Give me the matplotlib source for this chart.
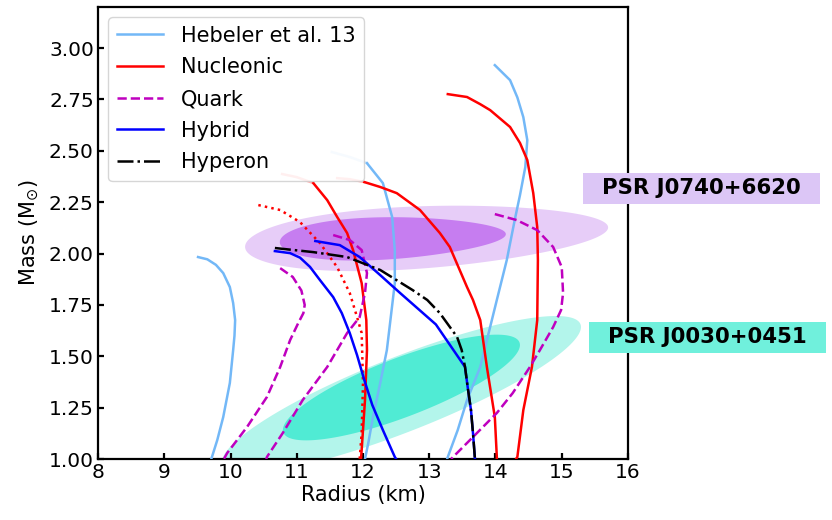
import matplotlib
matplotlib.use("Agg")
import matplotlib.pyplot as plt
import numpy as np
from matplotlib.patches import Polygon, Rectangle

# ---- Hebeler et al. (2013) representative EoS -------------------------------
heb1_r = [9.51, 9.65, 9.78, 9.89, 9.99, 10.04, 10.07, 10.06, 10.04, 9.99, 9.89, 9.80, 9.72, 9.71]
heb1_m = [1.983, 1.972, 1.945, 1.905, 1.837, 1.759, 1.676, 1.60, 1.53, 1.37, 1.204, 1.092, 1.01, 1.00]
heb2_top_r = [11.53, 11.80, 12.06]
heb2_top_m = [2.494, 2.47, 2.44]
heb2_r = [12.06, 12.30, 12.44, 12.48, 12.48, 12.45, 12.36, 12.26, 12.15, 12.08, 12.03]
heb2_m = [2.44, 2.343, 2.178, 2.017, 1.856, 1.774, 1.53, 1.37, 1.204, 1.078, 1.00]
heb3_r = [13.99, 14.22, 14.33, 14.42, 14.48, 14.45, 14.37, 14.29, 14.17, 14.02, 13.77,
          13.57, 13.43, 13.28, 13.27]
heb3_m = [2.917, 2.844, 2.76, 2.664, 2.552, 2.421, 2.285, 2.163, 1.968, 1.774, 1.448,
          1.287, 1.141, 1.01, 1.00]

# ---- Nucleonic ----------------------------------------------------------------
nuc1_top_r = [10.78, 11.00, 11.25]
nuc1_top_m = [2.387, 2.372, 2.343]
nuc1_r = [11.25, 11.46, 11.61, 11.76, 11.85, 11.98, 12.05, 12.06, 12.03, 11.98, 11.97]
nuc1_m = [2.343, 2.26, 2.178, 2.10, 2.017, 1.856, 1.676, 1.53, 1.287, 1.044, 1.00]
nuc2_top_r = [11.61, 11.80, 12.02]
nuc2_top_m = [2.367, 2.362, 2.348]
nuc2_r = [12.02, 12.26, 12.51, 12.86, 13.16, 13.31, 13.57, 13.66, 13.77, 13.87, 13.99,
          14.02, 14.02]
nuc2_m = [2.348, 2.324, 2.294, 2.212, 2.10, 2.032, 1.837, 1.774, 1.676, 1.448, 1.204,
          1.01, 1.00]
nuc3_r = [13.28, 13.57, 13.77, 13.92, 14.22, 14.37, 14.48, 14.57, 14.63, 14.64, 14.63,
          14.55, 14.42, 14.33, 14.31]
nuc3_m = [2.776, 2.762, 2.727, 2.698, 2.616, 2.538, 2.455, 2.294, 2.129, 1.968, 1.676,
          1.448, 1.238, 1.01, 1.00]
nuc_dot_r = [10.42, 10.75, 11.05, 11.35, 11.61, 11.80, 11.91, 11.98, 12.00, 11.98, 11.95]
nuc_dot_m = [2.236, 2.212, 2.153, 2.051, 1.934, 1.808, 1.691, 1.613, 1.37, 1.127, 1.00]

# ---- Quark --------------------------------------------------------------------
qk1_r = [10.75, 10.94, 11.07, 11.12, 11.10, 11.02, 10.90, 10.75, 10.55, 10.25, 9.95, 9.90]
qk1_m = [1.929, 1.886, 1.82, 1.75, 1.71, 1.66, 1.579, 1.448, 1.302, 1.156, 1.029, 1.00]
qk2_r = [11.55, 11.80, 11.98, 12.06, 12.03, 11.95, 11.76, 11.46, 11.09, 10.79, 10.55, 10.54]
qk2_m = [2.09, 2.066, 2.017, 1.905, 1.808, 1.691, 1.613, 1.448, 1.287, 1.127, 1.01, 1.00]
qk3_r = [13.99, 14.32, 14.63, 14.87, 15.00, 15.02, 14.99, 14.87, 14.67, 14.52, 14.26,
         14.02, 13.66, 13.36, 13.33]
qk3_m = [2.192, 2.163, 2.114, 2.032, 1.934, 1.808, 1.725, 1.642, 1.53, 1.448, 1.321,
         1.224, 1.107, 1.01, 1.00]

# ---- Hybrid -------------------------------------------------------------------
hyb1_r = [10.67, 10.90, 11.05, 11.20, 11.35, 11.55, 11.68, 11.80, 11.91, 12.02, 12.14,
          12.30, 12.48, 12.50]
hyb1_m = [2.012, 2.002, 1.98, 1.935, 1.871, 1.788, 1.71, 1.613, 1.506, 1.384, 1.263,
          1.141, 1.01, 1.00]
hyb2_r = [11.28, 11.65, 11.95, 12.26, 12.56, 13.10, 13.54, 13.58, 13.63, 13.66, 13.69]
hyb2_m = [2.061, 2.041, 1.983, 1.895, 1.808, 1.655, 1.448, 1.35, 1.238, 1.127, 1.00]

# ---- Hyperon ------------------------------------------------------------------
hyp_r = [10.67, 11.25, 11.76, 12.26, 12.75, 12.97, 13.16, 13.42, 13.49, 13.54, 13.58,
         13.63, 13.66, 13.69]
hyp_m = [2.027, 2.007, 1.983, 1.92, 1.822, 1.774, 1.71, 1.594, 1.53, 1.448, 1.35,
         1.238, 1.127, 1.00]

# ---- NICER / radio credible regions ---------------------------------------------
# (centre R, centre M, half-width R, slope dM/dR, half-height M, taper)
j0740_outer = (12.96, 2.080, 2.74, 0.0172, 0.151, 0.15)
j0740_inner = (12.45, 2.075, 1.706, 0.0114, 0.102, 0.20)
j0030_outer = (12.58, 1.314, 2.71, 0.1212, 0.195, 0.0)
j0030_inner = (12.58, 1.348, 1.789, 0.1156, 0.153, 0.0)

pulsar_names = ["PSR J0740+6620", "PSR J0030+0451"]

c_heb = "#73b8f7"
c_j0740 = ["#e7cdf8", "#c67df0", "#dcc6f6"]
c_j0030 = ["#b3f5eb", "#50ebd4", "#70f0dc"]

fig = plt.figure(figsize=(8.32, 5.20), dpi=100)
ax = fig.add_axes([0.1178, 0.1173, 0.6370, 0.8692])


def region(params):
    cx, cy, a, s, h, k = params
    t = np.linspace(0, 2 * np.pi, 300)
    u = np.cos(t)
    x = cx + a * u
    y = cy + s * a * u + h * np.sin(t) * (1 - k * u)
    return np.column_stack([x, y])


for p, col in [(j0740_outer, c_j0740[0]), (j0740_inner, c_j0740[1]),
               (j0030_outer, c_j0030[0]), (j0030_inner, c_j0030[1])]:
    ax.add_patch(Polygon(region(p), closed=True, facecolor=col,
                         edgecolor="none", zorder=1))

lw = 1.8
faded = 0.3
kw = dict(lw=lw, solid_joinstyle="round", zorder=3)
# Hebeler
ax.plot(heb1_r, heb1_m, color=c_heb, label="Hebeler et al. 13", **kw)
ax.plot(heb2_top_r, heb2_top_m, color=c_heb, alpha=faded, **kw)
ax.plot(heb2_r, heb2_m, color=c_heb, **kw)
ax.plot(heb3_r, heb3_m, color=c_heb, **kw)
# Nucleonic
ax.plot(nuc1_top_r, nuc1_top_m, color="red", alpha=faded, **kw)
ax.plot(nuc1_r, nuc1_m, color="red", label="Nucleonic", **kw)
ax.plot(nuc2_top_r, nuc2_top_m, color="red", alpha=faded, **kw)
ax.plot(nuc2_r, nuc2_m, color="red", **kw)
ax.plot(nuc3_r, nuc3_m, color="red", **kw)
ax.plot(nuc_dot_r, nuc_dot_m, color="red", ls=":", **kw)
# Quark
ax.plot(qk1_r, qk1_m, color="m", ls="--", label="Quark", **kw)
ax.plot(qk2_r, qk2_m, color="m", ls="--", **kw)
ax.plot(qk3_r, qk3_m, color="m", ls="--", **kw)
# Hybrid
ax.plot(hyb1_r, hyb1_m, color="b", label="Hybrid", **kw)
ax.plot(hyb2_r, hyb2_m, color="b", **kw)
# Hyperon
ax.plot(hyp_r, hyp_m, color="k", ls="-.", label="Hyperon", lw=lw, zorder=4)

ax.set_xlim(8, 16)
ax.set_ylim(1.0, 3.2)
ax.set_xticks(np.arange(8, 17, 1))
ax.set_yticks(np.arange(1.0, 3.01, 0.25))
ax.yaxis.set_major_formatter(matplotlib.ticker.FormatStrFormatter("%.2f"))
ax.tick_params(direction="in", length=4, width=1.6, labelsize=14.5, pad=3)
for sp in ax.spines.values():
    sp.set_linewidth(1.6)

ax.set_xlabel("Radius (km)", fontsize=15, labelpad=2)
ax.set_ylabel(r"Mass (M$_{\odot}$)", fontsize=15, labelpad=6)

leg = ax.legend(loc="upper left", fontsize=15, handlelength=2.2,
                labelspacing=0.56, borderpad=0.4, handletextpad=0.9)
leg.set_zorder(10)

# Pulsar tags beside the axes
tags = [(pulsar_names[0], (0.7007, 0.6077, 0.2849, 0.0596), c_j0740[2]),
        (pulsar_names[1], (0.7079, 0.3212, 0.2849, 0.0596), c_j0030[2])]
for name, (x0, y0, w, h), col in tags:
    fig.add_artist(Rectangle((x0, y0), w, h, transform=fig.transFigure,
                             facecolor=col, edgecolor="none", zorder=20))
    fig.text(x0 + w / 2, y0 + h / 2, name, ha="center", va="center",
             fontsize=15.3, fontweight="bold", zorder=21)

fig.savefig("out.png", dpi=100)
